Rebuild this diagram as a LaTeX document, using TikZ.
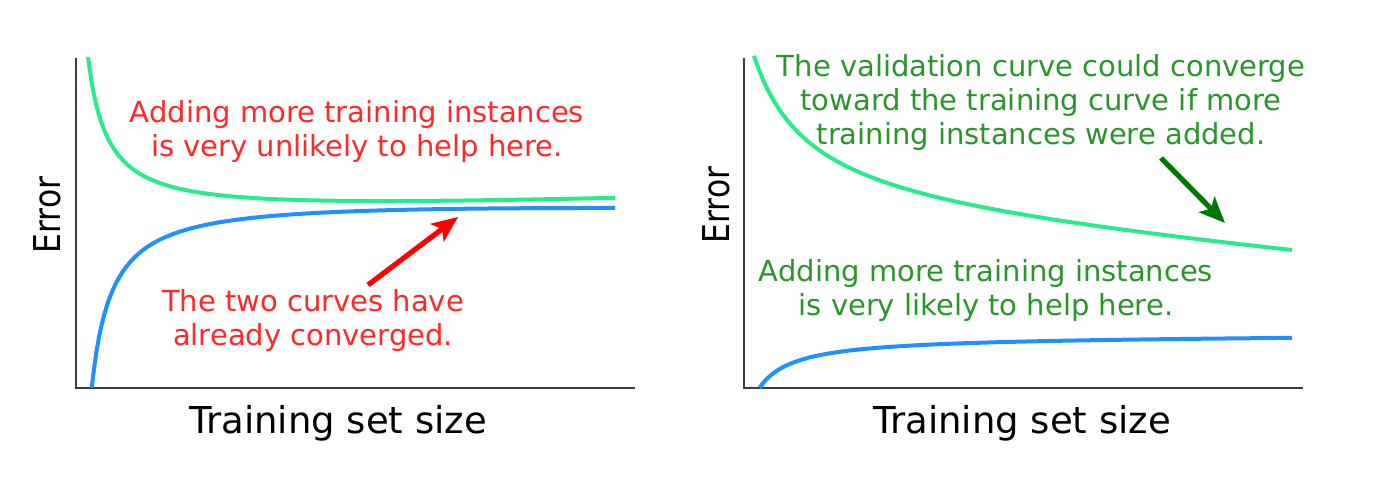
\documentclass[tikz,border=0pt]{standalone}
\usepackage{fontspec}
\setmainfont{DejaVu Sans}
\usetikzlibrary{arrows.meta}
\definecolor{curvegreen}{RGB}{40,235,140}
\definecolor{curveblue}{RGB}{30,144,255}
\definecolor{notered}{RGB}{255,40,40}
\definecolor{arrowred}{RGB}{255,0,0}
\definecolor{notegreen}{RGB}{40,150,40}
\definecolor{arrowgreen}{RGB}{0,120,0}
\definecolor{axisgray}{RGB}{60,60,60}
\tikzset{
  axisline/.style={axisgray,line width=1pt},
  curve/.style={line width=2pt,samples=120,smooth},
  note/.style={align=center,inner sep=0pt,font=\fontsize{14.5}{17}\selectfont},
  axislabel/.style={inner sep=0pt,font=\fontsize{18.5}{22}\selectfont},
  errlabel/.style={inner sep=0pt,rotate=90,font=\fontsize{18.5}{22}\selectfont},
  pointer/.style={line width=2.6pt,-{Stealth[length=13pt,width=11pt,inset=3pt]}}
}
\begin{document}
\begin{tikzpicture}[x=0.5pt,y=-0.5pt]
  \useasboundingbox (0,0) rectangle (1378,480);
  % left plot
  \draw[axisline] (76,58)--(76,388)--(635,388);
  \draw[curve,curvegreen] plot[domain=12:539] ({76+\x},{221.6-3283/(\x+8)-0.033*\x});
  \draw[curve,curveblue] plot[domain=15.7:539] ({76+\x},{193.3+4021/(\x+5)+0.0135*\x});
  \node[errlabel] (errleft) at (47,215) {\scalebox{0.85}[1]{Error}};
  \node[axislabel] (sizeleft) at (338,423) {Training set size};
  \node[note,notered] (unlikely) at (357,132) {Adding more training instances\\is very unlikely to help here.};
  \node[note,notered] (converged) at (313,321) {The two curves have\\already converged.};
  \coordinate (redtail) at (368,285);
  \coordinate (redtip) at (458,217);
  \draw[pointer,arrowred] (redtail)--(redtip);
  % right plot
  \draw[axisline] (744,58)--(744,388)--(1303,388);
  \draw[curve,curvegreen] plot[domain=10:548] ({744+\x},{218.6-9000/(\x+45)+0.085*\x});
  \draw[curve,curveblue] plot[domain=15.5:548] ({744+\x},{336.3+1828/(\x+20)-0.003*\x});
  \node[errlabel] (errright) at (716,205) {\scalebox{0.85}[1]{Error}};
  \node[axislabel] (sizeright) at (1022,423) {Training set size};
  \node[note,notegreen] (couldconverge) at (1041,103) {The validation curve could converge\\toward the training curve if more\\training instances were added.};
  \node[note,notegreen] (likely) at (986,291) {Adding more training instances\\is very likely to help here.};
  \coordinate (greentail) at (1161,158);
  \coordinate (greentip) at (1225,223);
  \draw[pointer,arrowgreen] (greentail)--(greentip);
\end{tikzpicture}
\end{document}
